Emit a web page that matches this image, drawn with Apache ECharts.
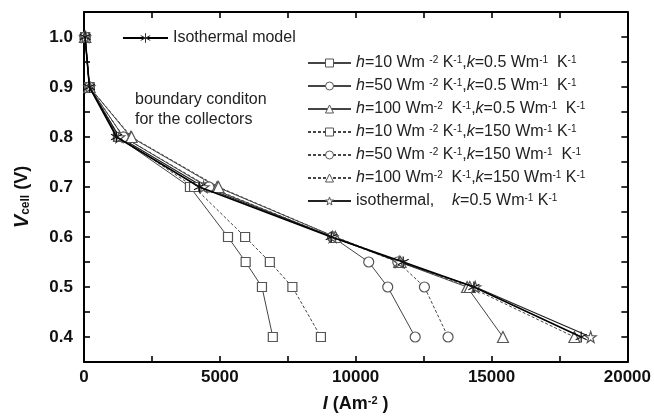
<!DOCTYPE html>
<html><head><meta charset="utf-8">
<script src="https://cdn.jsdelivr.net/npm/echarts@6/dist/echarts.min.js"></script>
<style>html,body{margin:0;padding:0;background:#fff}#c{width:654px;height:420px}</style>
</head><body><div id="c"></div>
<script>
const voltages = [1.0, 0.9, 0.8, 0.7, 0.6, 0.55, 0.5, 0.4];
const isoModel = [40, 200, 1200, 4250, 9100, 11750, 14350, 18300];
const h10k05 = [40, 200, 1250, 3900, 5300, 5950, 6550, 6950];
const h50k05 = [40, 200, 1450, 4550, 9150, 10480, 11180, 12190];
const h100k05 = [40, 200, 1720, 4900, 9250, 11600, 14100, 15420];
const h10k150 = [40, 200, 1300, 4050, 5930, 6840, 7670, 8720];
const h50k150 = [40, 200, 1450, 4600, 9150, 11550, 12530, 13400];
const h100k150 = [40, 200, 1750, 4950, 9250, 11650, 14200, 18050];
const isoK05 = [40, 200, 1300, 4400, 9150, 11600, 14400, 18650];

const names = ['Isothermal model','h10k05','h50k05','h100k05','h10k150','h50k150','h100k150','isoK05'];
const labels = {
  'h10k05': '{i|h}=10 Wm {s|-2} K{s|-1},{i|k}=0.5 Wm{s|-1}  K{s|-1}',
  'h50k05': '{i|h}=50 Wm {s|-2} K{s|-1},{i|k}=0.5 Wm{s|-1}  K{s|-1}',
  'h100k05': '{i|h}=100 Wm{s|-2}  K{s|-1},{i|k}=0.5 Wm{s|-1}  K{s|-1}',
  'h10k150': '{i|h}=10 Wm {s|-2} K{s|-1},{i|k}=150 Wm{s|-1} K{s|-1}',
  'h50k150': '{i|h}=50 Wm {s|-2} K{s|-1},{i|k}=150 Wm{s|-1}  K{s|-1}',
  'h100k150': '{i|h}=100 Wm{s|-2}  K{s|-1},{i|k}=150 Wm{s|-1} K{s|-1}',
  'isoK05': 'isothermal,    {i|k}=0.5 Wm{s|-1} K{s|-1}'
};

const zip = arr => arr.map((x, i) => [x, voltages[i]]);
const asterisk = 'path://M5 0 L5 10 M0.7 2.5 L9.3 7.5 M9.3 2.5 L0.7 7.5';
const star = 'path://M5 0 L6.18 3.38 L9.76 3.45 L6.9 5.62 L7.94 9.05 L5 7 L2.06 9.05 L3.1 5.62 L0.24 3.45 L3.82 3.38 Z';

function mk(name, arr, symbol, dashed, opts) {
  return Object.assign({
    name, type: 'line', data: zip(arr), symbol, symbolSize: 10,
    lineStyle: { color: '#444', width: 1, type: dashed ? [3, 2] : 'solid' },
    itemStyle: { color: '#fff', borderColor: '#555', borderWidth: 1.2 },
    emphasis: { disabled: true }, z: 2
  }, opts || {});
}

const series = [
  mk('h10k05', h10k05, 'rect', false, {symbolSize: 9}),
  mk('h50k05', h50k05, 'circle', false),
  mk('h100k05', h100k05, 'triangle', false, {symbolSize: 11}),
  mk('h10k150', h10k150, 'rect', true, {symbolSize: 9}),
  mk('h50k150', h50k150, 'circle', true),
  mk('h100k150', h100k150, 'triangle', true, {symbolSize: 11}),
  mk('isoK05', isoK05, star, false, {symbolSize: 11, lineStyle: {color: '#222', width: 1.3}}),
  mk('Isothermal model', isoModel, asterisk, false, {symbolSize: 11, z: 3,
    lineStyle: {color: '#000', width: 1.6},
    itemStyle: {color: 'none', borderColor: '#111', borderWidth: 1.2}})
];

const axisBase = {
  axisLine: { onZero: false, lineStyle: { color: '#000', width: 2 } },
  axisTick: { inside: true, length: 6, lineStyle: { color: '#000', width: 1.6 } },
  splitLine: { show: false }
};
const labelStyle = { color: '#111', fontFamily: 'Liberation Sans', fontWeight: 'bold', fontSize: 17 };
const F = 'Liberation Sans';

const option = {
  animation: false,
  backgroundColor: '#fff',
  grid: { left: 84, right: 24, top: 12, bottom: 58 },
  xAxis: [
    Object.assign({}, axisBase, {
      type: 'value', position: 'bottom', min: 0, max: 20000, interval: 2500,
      axisLabel: Object.assign({}, labelStyle, { margin: 7, formatter: v => (v % 5000 === 0 ? String(v) : '') }),
      name: '{i|I} (Am{s|-2} )', nameLocation: 'middle', nameGap: 33,
      nameTextStyle: { fontFamily: F, fontWeight: 'bold', fontSize: 18, color: '#111',
        rich: { i: { fontStyle: 'italic', fontWeight: 'bold', fontSize: 18, fontFamily: F, color: '#111' },
                s: { fontSize: 11, fontWeight: 'bold', verticalAlign: 'top', fontFamily: F, color: '#111' } } }
    }),
    Object.assign({}, axisBase, {
      type: 'value', position: 'top', min: 0, max: 20000, interval: 2500, axisLabel: { show: false }
    })
  ],
  yAxis: [
    Object.assign({}, axisBase, {
      type: 'value', position: 'left', min: 0.35, max: 1.05, interval: 0.05,
      axisLabel: Object.assign({}, labelStyle, { margin: 11,
        formatter: v => (Math.abs(v * 10 - Math.round(v * 10)) < 1e-6 ? v.toFixed(1) : '') }),
      name: '{i|V}{s|cell} (V)', nameLocation: 'middle', nameGap: 52, nameRotate: 90,
      nameTextStyle: { fontFamily: F, fontWeight: 'bold', fontSize: 18, color: '#111', padding: [0, 20, 0, 0],
        rich: { i: { fontStyle: 'italic', fontWeight: 'bold', fontSize: 20, fontFamily: F, color: '#111' },
                s: { fontSize: 12, fontWeight: 'bold', verticalAlign: 'bottom', fontFamily: F, color: '#111' } } }
    }),
    Object.assign({}, axisBase, {
      type: 'value', position: 'right', min: 0.35, max: 1.05, interval: 0.05, axisLabel: { show: false }
    })
  ],
  legend: [
    { data: ['Isothermal model'], left: 117, top: 25, itemWidth: 45, itemHeight: 12,
      itemStyle: { color: 'none', borderColor: '#333', borderWidth: 1 },
      textStyle: { fontFamily: F, fontSize: 16, color: '#222' } },
    { data: names.slice(1), orient: 'vertical', left: 302, top: 50, itemWidth: 43, itemHeight: 10, itemGap: 7,
      formatter: n => labels[n],
      itemStyle: { color: '#fff', borderColor: '#555', borderWidth: 1 },
      textStyle: { fontFamily: F, fontSize: 16, color: '#222', lineHeight: 16,
        rich: { i: { fontStyle: 'italic', fontSize: 16, lineHeight: 16, fontFamily: F, color: '#222' },
                s: { fontSize: 10, lineHeight: 10, verticalAlign: 'top', fontFamily: F, color: '#222' } } } }
  ],
  graphic: [
    { type: 'text', left: 135, top: 90, style: { text: 'boundary conditon\nfor the collectors',
      font: '16px "Liberation Sans"', fill: '#222', lineHeight: 20 } }
  ],
  series
};
const chart = echarts.init(document.getElementById('c'), null, { renderer: 'canvas' });
chart.setOption(option);
</script></body></html>
